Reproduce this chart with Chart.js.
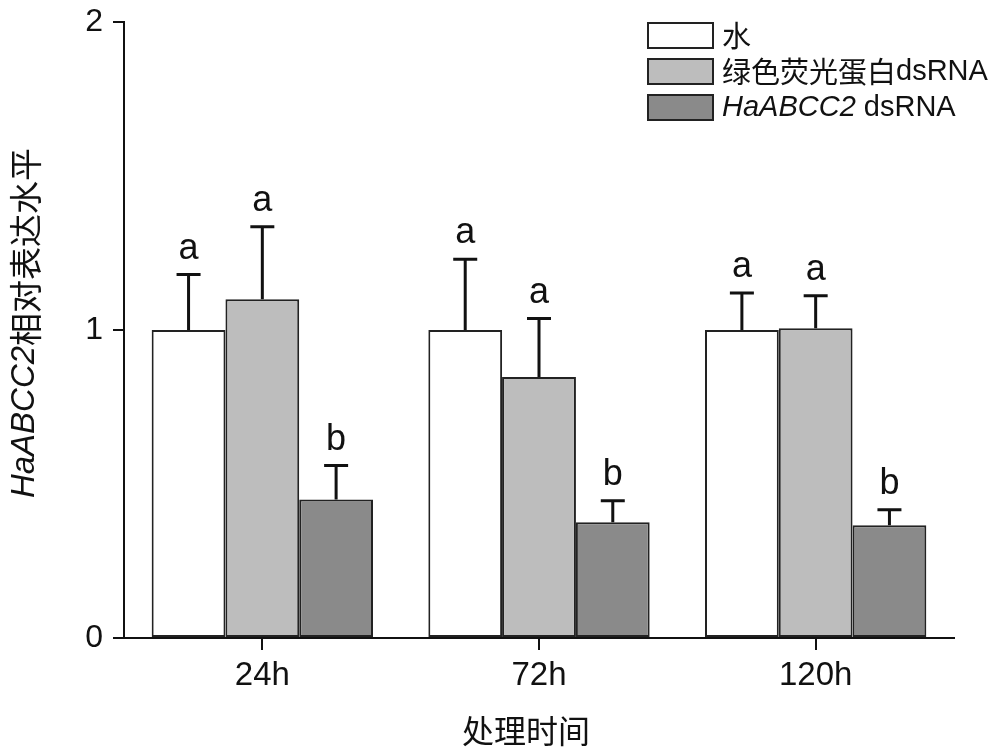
<!DOCTYPE html>
<html>
<head>
<meta charset="utf-8">
<script src="https://cdn.jsdelivr.net/npm/chart.js@4"></script>
<style>
  html, body { margin: 0; padding: 0; background: #fff; }
  #wrap { width: 1000px; height: 754px; }
</style>
</head>
<body>
<div id="wrap"><canvas id="myChart" width="1000" height="754"></canvas></div>
<script>
const categories = ['24h', '72h', '120h'];
const seriesNames = ['水', '绿色荧光蛋白dsRNA', 'HaABCC2 dsRNA'];
const waterValues = [1.0, 1.0, 1.0];
const gfpValues = [1.10, 0.847, 1.006];
const abccValues = [0.45, 0.376, 0.366];
const waterErr = [0.18, 0.23, 0.12];
const gfpErr = [0.235, 0.19, 0.105];
const abccErr = [0.11, 0.07, 0.05];
const waterSig = ['a', 'a', 'a'];
const gfpSig = ['a', 'a', 'a'];
const abccSig = ['b', 'b', 'b'];
const yTicks = [0, 1, 2];
const xTitle = '处理时间';
const yTitleItalic = 'HaABCC2';
const yTitleRest = '相对表达水平';

const latin = '"Liberation Sans", Arial, sans-serif';
const cjk = '"Noto Sans CJK SC", sans-serif';

// draws error bars + significance letters on top of each bar
const errorBarPlugin = {
    id: 'errorBars',
    afterDatasetsDraw(chart) {
        const ctx = chart.ctx;
        const yScale = chart.scales.y;
        chart.data.datasets.forEach((ds, i) => {
            const meta = chart.getDatasetMeta(i);
            meta.data.forEach((bar, j) => {
                const top = yScale.getPixelForValue(ds.data[j] + ds.errors[j]);
                ctx.save();
                ctx.strokeStyle = '#111';
                ctx.lineWidth = 3;
                ctx.beginPath();
                ctx.moveTo(bar.x, bar.y);
                ctx.lineTo(bar.x, top);
                ctx.moveTo(bar.x - 12, top);
                ctx.lineTo(bar.x + 12, top);
                ctx.stroke();
                ctx.fillStyle = '#111';
                ctx.font = '36px ' + latin;
                ctx.textAlign = 'center';
                ctx.textBaseline = 'alphabetic';
                ctx.fillText(ds.letters[j], bar.x, top - 16);
                ctx.restore();
            });
        });
    }
};

// axis titles and legend (mixed italic / regular text)
const textPlugin = {
    id: 'texts',
    afterDraw(chart) {
        const ctx = chart.ctx;
        const area = chart.chartArea;
        ctx.save();
        ctx.fillStyle = '#111';

        // x title
        ctx.font = '32px ' + cjk;
        ctx.textAlign = 'center';
        ctx.textBaseline = 'middle';
        ctx.fillText(xTitle, 526, 731);

        // y title
        ctx.translate(25, (area.top + area.bottom) / 2 - 7);
        ctx.rotate(-Math.PI / 2);
        ctx.font = 'italic 33px ' + latin;
        const w1 = ctx.measureText(yTitleItalic).width;
        ctx.font = '33px ' + cjk;
        const w2 = ctx.measureText(yTitleRest).width;
        let start = -(w1 + w2) / 2;
        ctx.textAlign = 'left';
        ctx.font = 'italic 33px ' + latin;
        ctx.fillText(yTitleItalic, start, 0);
        ctx.font = '33px ' + cjk;
        ctx.fillText(yTitleRest, start + w1, 0);
        ctx.restore();

        // legend
        ctx.save();
        chart.data.datasets.forEach((ds, i) => {
            const y = 23 + i * 36;
            ctx.fillStyle = ds.backgroundColor;
            ctx.fillRect(648, y, 65, 25);
            ctx.strokeStyle = '#222';
            ctx.lineWidth = 2;
            ctx.strokeRect(648, y, 65, 25);
            ctx.fillStyle = '#111';
            ctx.textBaseline = 'middle';
            ctx.textAlign = 'left';
            let x = 722;
            const label = ds.label;
            if (label.startsWith('HaABCC2')) {
                ctx.font = 'italic 29px ' + latin;
                ctx.fillText('HaABCC2', x, y + 13);
                x += ctx.measureText('HaABCC2').width;
                ctx.font = '29px ' + latin;
                ctx.fillText(label.slice(7), x, y + 13);
            } else {
                const m = label.match(/^([^A-Za-z]*)(.*)$/);
                ctx.font = '29px ' + cjk;
                ctx.fillText(m[1], x, y + 13);
                x += ctx.measureText(m[1]).width;
                ctx.font = '29px ' + latin;
                ctx.fillText(m[2], x, y + 13);
            }
        });
        ctx.restore();
    }
};

const ctx = document.getElementById('myChart').getContext('2d');
const myChart = new Chart(ctx, {
    type: 'bar',
    data: {
        labels: categories,
        datasets: [
            { label: seriesNames[0], data: waterValues, errors: waterErr, letters: waterSig,
              backgroundColor: '#ffffff', borderColor: '#222', borderWidth: 2, borderSkipped: false },
            { label: seriesNames[1], data: gfpValues, errors: gfpErr, letters: gfpSig,
              backgroundColor: '#bdbdbd', borderColor: '#222', borderWidth: 2, borderSkipped: false },
            { label: seriesNames[2], data: abccValues, errors: abccErr, letters: abccSig,
              backgroundColor: '#8a8a8a', borderColor: '#222', borderWidth: 2, borderSkipped: false }
        ]
    },
    options: {
        responsive: false,
        animation: false,
        layout: { padding: { top: 22, right: 46, left: 0, bottom: 0 } },
        datasets: { bar: { categoryPercentage: 0.8, barPercentage: 1.0 } },
        plugins: {
            legend: { display: false },
            tooltip: { enabled: false }
        },
        scales: {
            x: {
                grid: { display: true, drawOnChartArea: false, offset: false, tickLength: 12, color: '#111', lineWidth: 2 },
                border: { color: '#111', width: 2 },
                ticks: { color: '#111', font: { family: latin, size: 33 }, padding: 6 },
                afterFit: scale => { scale.height = 116; scale.paddingLeft = 0; scale.paddingRight = 0; }
            },
            y: {
                min: 0,
                max: 2,
                afterBuildTicks: scale => { scale.ticks = yTicks.map(v => ({ value: v })); },
                grid: { display: true, drawOnChartArea: false, tickLength: 11, color: '#111', lineWidth: 2 },
                border: { color: '#111', width: 2 },
                ticks: { color: '#111', font: { family: latin, size: 32 }, padding: 10 },
                afterFit: scale => { scale.width = 124; scale.paddingTop = 0; scale.paddingBottom = 0; }
            }
        }
    },
    plugins: [errorBarPlugin, textPlugin]
});
</script>
</body>
</html>
